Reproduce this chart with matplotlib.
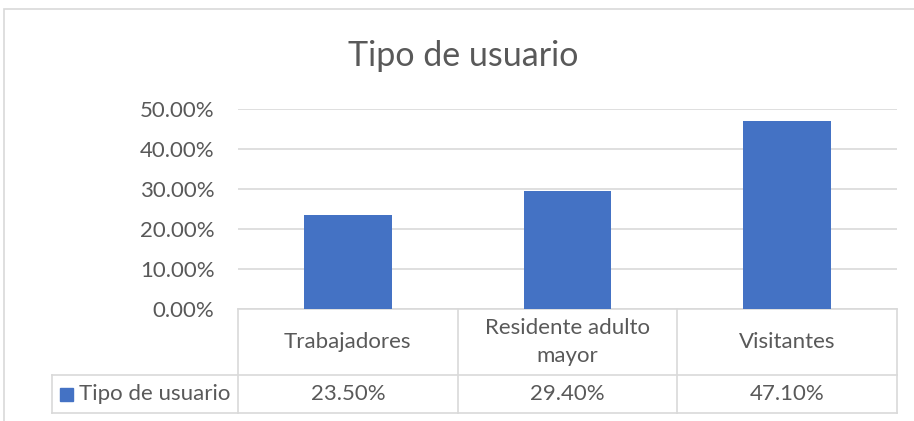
import matplotlib.pyplot as plt
from matplotlib.patches import Rectangle
from matplotlib.transforms import blended_transform_factory

plt.rcParams['font.family'] = ['Lato', 'DejaVu Sans']

# datos
categorias = ['Trabajadores', 'Residente adulto\nmayor', 'Visitantes']
valores = [0.235, 0.294, 0.471]
serie = 'Tipo de usuario'
titulo = 'Tipo de usuario'
yticks = [0.0, 0.1, 0.2, 0.3, 0.4, 0.5]

azul = '#4472C4'
gris_txt = '#595959'
gris_lin = '#D9D9D9'
fs = 16

W, H = 914, 421
fig = plt.figure(figsize=(W / 100, H / 100), dpi=100)

# marco exterior del grafico
fig.patches.append(Rectangle((4 / W, -0.1), 1.2, (H - 9) / H + 0.1,
                             transform=fig.transFigure, fill=False,
                             edgecolor=gris_lin, lw=1.2))

x0, x1 = 238, 897
y_top, y_bot = 109, 309
ax = fig.add_axes([x0 / W, (H - y_bot) / H, (x1 - x0) / W, (y_bot - y_top) / H])

pos = range(len(categorias))
ax.bar(pos, valores, width=0.4, color=azul, zorder=3)
ax.set_xlim(-0.5, 2.5)
ax.set_ylim(0, 0.5)
ax.set_yticks(yticks)
ax.set_yticklabels(['{:.2f}%'.format(v * 100) for v in yticks])
ax.yaxis.grid(True, color=gris_lin, lw=1.2)
ax.set_axisbelow(True)
ax.set_xticks([])
for s in ax.spines.values():
    s.set_visible(False)
ax.tick_params(axis='y', length=0, pad=17, labelsize=fs, labelcolor=gris_txt)

fig.text(463 / W, 1 - 56 / H, titulo, ha='center', va='center',
         fontsize=24.5, color=gris_txt)

# tabla de datos bajo el eje
tr = blended_transform_factory(ax.transData, ax.transAxes)
px = 1.0 / (y_bot - y_top)
fila1 = -(375 - y_bot) * px
fila2 = -(413 - y_bot) * px
x_leyenda = -0.5 - (x0 - 52) / ((x1 - x0) / 3)
kw = dict(transform=tr, color=gris_lin, lw=1.2, clip_on=False)

ax.plot([-0.5, 2.5], [0, 0], **kw)
ax.plot([x_leyenda, 2.5], [fila1, fila1], **kw)
ax.plot([x_leyenda, 2.5], [fila2, fila2], **kw)
ax.plot([x_leyenda, x_leyenda], [fila1, fila2], **kw)
for b in [-0.5, 0.5, 1.5, 2.5]:
    ax.plot([b, b], [0, fila2], **kw)

for i, (c, v) in enumerate(zip(categorias, valores)):
    ax.text(i, fila1 / 2, c, transform=tr, ha='center', va='center',
            fontsize=fs, color=gris_txt, linespacing=1.45)
    ax.text(i, (fila1 + fila2) / 2, '{:.2f}%'.format(v * 100), transform=tr,
            ha='center', va='center', fontsize=fs, color=gris_txt)

# clave de la serie
ymid = (fila1 + fila2) / 2
ax.add_patch(Rectangle((x_leyenda + 8 / 219.7, ymid - 6.5 * px), 13 / 219.7, 13 * px,
                       transform=tr, color=azul, clip_on=False))
ax.text(x_leyenda + 27 / 219.7, ymid, serie, transform=tr, ha='left',
        va='center', fontsize=fs, color=gris_txt)

fig.savefig('out.png', dpi=100)
